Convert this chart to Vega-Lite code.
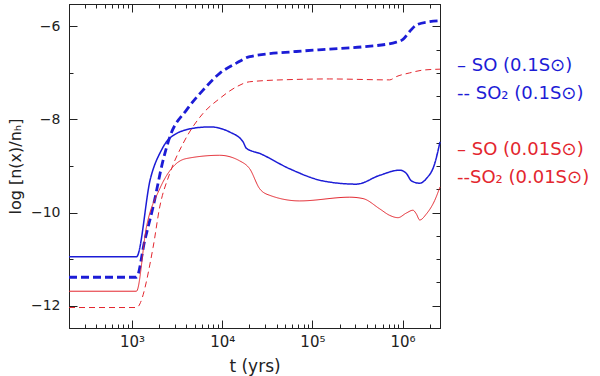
{
  "$schema": "https://vega.github.io/schema/vega-lite/v6.json",
  "width": 371,
  "height": 324,
  "autosize": "none",
  "padding": {"left": 69, "top": 4, "right": 160, "bottom": 48},
  "background": "white",
  "data": {
    "values": [
      {"s": "SO (0.1S⊙)", "t": 200, "v": -10.95},
      {"s": "SO (0.1S⊙)", "t": 1119, "v": -10.95},
      {"s": "SO (0.1S⊙)", "t": 1600, "v": -9.27},
      {"s": "SO (0.1S⊙)", "t": 2118, "v": -8.66},
      {"s": "SO (0.1S⊙)", "t": 2620, "v": -8.4},
      {"s": "SO (0.1S⊙)", "t": 4750, "v": -8.19},
      {"s": "SO (0.1S⊙)", "t": 7260, "v": -8.16},
      {"s": "SO (0.1S⊙)", "t": 12100, "v": -8.27},
      {"s": "SO (0.1S⊙)", "t": 17000, "v": -8.48},
      {"s": "SO (0.1S⊙)", "t": 18550, "v": -8.62},
      {"s": "SO (0.1S⊙)", "t": 26060, "v": -8.73},
      {"s": "SO (0.1S⊙)", "t": 56000, "v": -9.06},
      {"s": "SO (0.1S⊙)", "t": 131000, "v": -9.32},
      {"s": "SO (0.1S⊙)", "t": 308000, "v": -9.39},
      {"s": "SO (0.1S⊙)", "t": 557000, "v": -9.2},
      {"s": "SO (0.1S⊙)", "t": 929000, "v": -9.09},
      {"s": "SO (0.1S⊙)", "t": 1102000, "v": -9.16},
      {"s": "SO (0.1S⊙)", "t": 1253000, "v": -9.32},
      {"s": "SO (0.1S⊙)", "t": 1549000, "v": -9.37},
      {"s": "SO (0.1S⊙)", "t": 1837000, "v": -9.27},
      {"s": "SO (0.1S⊙)", "t": 2271000, "v": -8.95},
      {"s": "SO (0.1S⊙)", "t": 2600000, "v": -8.48},

      {"s": "SO₂ (0.1S⊙)", "t": 200, "v": -11.39},
      {"s": "SO₂ (0.1S⊙)", "t": 1119, "v": -11.39},
      {"s": "SO₂ (0.1S⊙)", "t": 1383, "v": -10.6},
      {"s": "SO₂ (0.1S⊙)", "t": 1711, "v": -9.88},
      {"s": "SO₂ (0.1S⊙)", "t": 2208, "v": -8.88},
      {"s": "SO₂ (0.1S⊙)", "t": 2620, "v": -8.38},
      {"s": "SO₂ (0.1S⊙)", "t": 4010, "v": -7.8},
      {"s": "SO₂ (0.1S⊙)", "t": 6124, "v": -7.37},
      {"s": "SO₂ (0.1S⊙)", "t": 9376, "v": -7.01},
      {"s": "SO₂ (0.1S⊙)", "t": 14360, "v": -6.79},
      {"s": "SO₂ (0.1S⊙)", "t": 20180, "v": -6.65},
      {"s": "SO₂ (0.1S⊙)", "t": 66500, "v": -6.54},
      {"s": "SO₂ (0.1S⊙)", "t": 155600, "v": -6.49},
      {"s": "SO₂ (0.1S⊙)", "t": 364000, "v": -6.44},
      {"s": "SO₂ (0.1S⊙)", "t": 853000, "v": -6.34},
      {"s": "SO₂ (0.1S⊙)", "t": 1010000, "v": -6.28},
      {"s": "SO₂ (0.1S⊙)", "t": 1199000, "v": -6.11},
      {"s": "SO₂ (0.1S⊙)", "t": 1422000, "v": -5.97},
      {"s": "SO₂ (0.1S⊙)", "t": 1996000, "v": -5.9},
      {"s": "SO₂ (0.1S⊙)", "t": 2600000, "v": -5.88},

      {"s": "SO (0.01S⊙)", "t": 200, "v": -11.69},
      {"s": "SO (0.01S⊙)", "t": 1119, "v": -11.69},
      {"s": "SO (0.01S⊙)", "t": 1445, "v": -10.31},
      {"s": "SO (0.01S⊙)", "t": 2028, "v": -9.49},
      {"s": "SO (0.01S⊙)", "t": 2973, "v": -8.98},
      {"s": "SO (0.01S⊙)", "t": 4010, "v": -8.84},
      {"s": "SO (0.01S⊙)", "t": 9376, "v": -8.77},
      {"s": "SO (0.01S⊙)", "t": 15630, "v": -8.89},
      {"s": "SO (0.01S⊙)", "t": 20180, "v": -9.06},
      {"s": "SO (0.01S⊙)", "t": 26060, "v": -9.49},
      {"s": "SO (0.01S⊙)", "t": 33650, "v": -9.63},
      {"s": "SO (0.01S⊙)", "t": 72400, "v": -9.75},
      {"s": "SO (0.01S⊙)", "t": 259600, "v": -9.67},
      {"s": "SO (0.01S⊙)", "t": 364000, "v": -9.7},
      {"s": "SO (0.01S⊙)", "t": 557000, "v": -9.92},
      {"s": "SO (0.01S⊙)", "t": 719000, "v": -10.06},
      {"s": "SO (0.01S⊙)", "t": 889000, "v": -10.11},
      {"s": "SO (0.01S⊙)", "t": 1102000, "v": -10.01},
      {"s": "SO (0.01S⊙)", "t": 1303000, "v": -9.95},
      {"s": "SO (0.01S⊙)", "t": 1422000, "v": -10.03},
      {"s": "SO (0.01S⊙)", "t": 1549000, "v": -10.16},
      {"s": "SO (0.01S⊙)", "t": 1837000, "v": -10.03},
      {"s": "SO (0.01S⊙)", "t": 2271000, "v": -9.74},
      {"s": "SO (0.01S⊙)", "t": 2600000, "v": -9.45},

      {"s": "SO₂ (0.01S⊙)", "t": 200, "v": -12.04},
      {"s": "SO₂ (0.01S⊙)", "t": 1119, "v": -12.04},
      {"s": "SO₂ (0.01S⊙)", "t": 1711, "v": -10.75},
      {"s": "SO₂ (0.01S⊙)", "t": 2028, "v": -9.88},
      {"s": "SO₂ (0.01S⊙)", "t": 2620, "v": -9.16},
      {"s": "SO₂ (0.01S⊙)", "t": 3673, "v": -8.52},
      {"s": "SO₂ (0.01S⊙)", "t": 6124, "v": -7.87},
      {"s": "SO₂ (0.01S⊙)", "t": 9376, "v": -7.55},
      {"s": "SO₂ (0.01S⊙)", "t": 14360, "v": -7.3},
      {"s": "SO₂ (0.01S⊙)", "t": 20180, "v": -7.19},
      {"s": "SO₂ (0.01S⊙)", "t": 66500, "v": -7.14},
      {"s": "SO₂ (0.01S⊙)", "t": 155600, "v": -7.13},
      {"s": "SO₂ (0.01S⊙)", "t": 719000, "v": -7.15},
      {"s": "SO₂ (0.01S⊙)", "t": 853000, "v": -7.08},
      {"s": "SO₂ (0.01S⊙)", "t": 1199000, "v": -7.0},
      {"s": "SO₂ (0.01S⊙)", "t": 1683000, "v": -6.94},
      {"s": "SO₂ (0.01S⊙)", "t": 2600000, "v": -6.92}
    ]
  },
  "layer": [
    {
      "mark": {"type": "line", "interpolate": "monotone"},
      "encoding": {
        "x": {
          "field": "t", "type": "quantitative",
          "scale": {"type": "log", "domain": [200, 2600000], "nice": false},
          "axis": {
            "orient": "bottom",
            "values": [300,400,500,600,700,800,900,1000,2000,3000,4000,5000,6000,7000,8000,9000,10000,20000,30000,40000,50000,60000,70000,80000,90000,100000,200000,300000,400000,500000,600000,700000,800000,900000,1000000,2000000],
            "labelExpr": "datum.value == 1000 ? '10³' : datum.value == 10000 ? '10⁴' : datum.value == 100000 ? '10⁵' : datum.value == 1000000 ? '10⁶' : ''",
            "tickSize": {"condition": {"test": "datum.value == 1000 || datum.value == 10000 || datum.value == 100000 || datum.value == 1000000", "value": -8}, "value": -4},
            "labelOverlap": false,
            "labelFlush": false,
            "labelPadding": 14,
            "labelFontSize": 15,
            "title": "t (yrs)",
            "titleFontSize": 17,
            "titlePadding": 5
          }
        },
        "y": {
          "field": "v", "type": "quantitative",
          "scale": {"domain": [-12.48, -5.52], "nice": false, "zero": false},
          "axis": {
            "orient": "left",
            "values": [-12,-11.5,-11,-10.5,-10,-9.5,-9,-8.5,-8,-7.5,-7,-6.5,-6],
            "format": "d",
            "labelExpr": "datum.value % 2 == 0 ? datum.label : ''",
            "tickSize": {"condition": {"test": "datum.value % 2 == 0", "value": -8}, "value": -4},
            "labelOverlap": false,
            "labelFlush": false,
            "labelPadding": 17,
            "labelFontSize": 14,
            "title": "log [n(x)/nₕ]",
            "titleFontSize": 16,
            "titlePadding": 7
          }
        },
        "color": {
          "field": "s", "type": "nominal",
          "scale": {
            "domain": ["SO (0.1S⊙)", "SO₂ (0.1S⊙)", " ", "SO (0.01S⊙)", "SO₂ (0.01S⊙)"],
            "range": ["#1c1cd6", "#1c1cd6", "transparent", "#e3262e", "#e3262e"]
          },
          "legend": {
            "orient": "none",
            "legendX": 370,
            "legendY": 53,
            "title": null,
            "symbolType": "stroke",
            "symbolSize": 0,
            "symbolStrokeWidth": 0,
            "symbolOpacity": 0,
            "labelOffset": 0,
            "labelFont": "DejaVu Sans",
            "labelFontSize": 18,
            "rowPadding": 10,
            "labelLimit": 300,
            "labelColor": {"expr": "indexof(datum.label, '0.01') >= 0 ? '#e3262e' : '#1c1cd6'"},
            "labelExpr": "datum.label == ' ' ? '' : (indexof(datum.label, '₂') >= 0 ? (indexof(datum.label, '0.01') >= 0 ? '--' : '-- ') : (indexof(datum.label, '0.01') >= 0 ? '  – ' : '  –  ')) + datum.label"
          }
        },
        "strokeDash": {
          "field": "s", "type": "nominal",
          "scale": {
            "domain": ["SO (0.1S⊙)", "SO₂ (0.1S⊙)", " ", "SO (0.01S⊙)", "SO₂ (0.01S⊙)"],
            "range": [[1, 0], [8, 4], [1, 0], [1, 0], [6, 4]]
          },
          "legend": null
        },
        "strokeWidth": {
          "field": "s", "type": "nominal",
          "scale": {
            "type": "ordinal",
            "domain": ["SO (0.1S⊙)", "SO₂ (0.1S⊙)", " ", "SO (0.01S⊙)", "SO₂ (0.01S⊙)"],
            "range": [1.5, 2.8, 1, 1, 1]
          },
          "legend": null
        }
      }
    },
    {
      "mark": {"type": "line", "opacity": 0},
      "encoding": {
        "detail": {"field": "s", "type": "nominal"},
        "x": {
          "field": "t", "type": "quantitative",
          "scale": {"type": "log", "domain": [200, 2600000], "nice": false},
          "axis": {
            "orient": "top",
            "values": [300,400,500,600,700,800,900,1000,2000,3000,4000,5000,6000,7000,8000,9000,10000,20000,30000,40000,50000,60000,70000,80000,90000,100000,200000,300000,400000,500000,600000,700000,800000,900000,1000000,2000000],
            "labels": false,
            "title": null,
            "tickSize": {"condition": {"test": "datum.value == 1000 || datum.value == 10000 || datum.value == 100000 || datum.value == 1000000", "value": -8}, "value": -4}
          }
        },
        "y": {
          "field": "v", "type": "quantitative",
          "scale": {"domain": [-12.48, -5.52], "nice": false, "zero": false},
          "axis": {
            "orient": "right",
            "values": [-12,-11.5,-11,-10.5,-10,-9.5,-9,-8.5,-8,-7.5,-7,-6.5,-6],
            "labels": false,
            "title": null,
            "tickSize": {"condition": {"test": "datum.value % 2 == 0", "value": -8}, "value": -4}
          }
        }
      }
    }
  ],
  "resolve": {"axis": {"x": "independent", "y": "independent"}},
  "config": {
    "view": {"stroke": "black", "strokeWidth": 1},
    "axis": {
      "grid": false,
      "domainColor": "#222",
      "tickColor": "#222",
      "labelColor": "#222",
      "titleColor": "#222",
      "labelFont": "DejaVu Sans",
      "titleFont": "DejaVu Sans",
      "titleFontWeight": "normal"
    }
  }
}
